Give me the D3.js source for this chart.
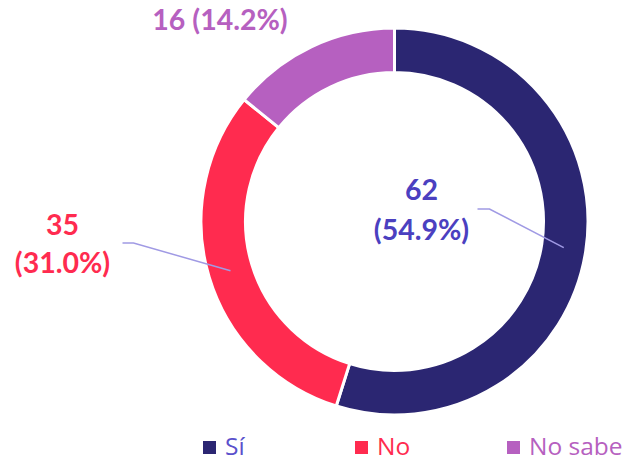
<!DOCTYPE html>
<html>
<head>
<meta charset="utf-8">
<script src="https://cdn.jsdelivr.net/npm/d3@7"></script>
<style>
  body { margin: 0; background: #fff; }
  svg { display: block; font-family: Lato, "Open Sans", sans-serif; }
</style>
</head>
<body>
<svg id="chart" width="634" height="461"></svg>
<script>
// data
const categories = ["Sí", "No", "No sabe"];
const counts = [62, 35, 16];
const sliceColors = ["#2B2672", "#FF2B4F", "#B660C0"];
const textColors = ["#4B40C0", "#FF2B4F", "#B660C0"];
const legendTextColors = ["#5A50CC", "#FF2B4F", "#B660C0"];

const width = 634, height = 461;
const cx = 394.5, cy = 221.5;
const outerR = 193.5, innerR = 149;

const svg = d3.select("#chart");
const g = svg.append("g").attr("transform", "translate(" + cx + "," + cy + ")");

const total = d3.sum(counts);
const data = categories.map((c, i) => ({ cat: c, value: counts[i], i: i }));

const pie = d3.pie().value(d => d.value).sort(null);
const arc = d3.arc().innerRadius(innerR).outerRadius(outerR);
const midArc = d3.arc().innerRadius((innerR + outerR) / 2).outerRadius((innerR + outerR) / 2);

const arcs = pie(data);

g.selectAll("path.slice")
  .data(arcs)
  .enter()
  .append("path")
  .attr("class", "slice")
  .attr("d", arc)
  .attr("fill", d => sliceColors[d.data.i])
  .attr("stroke", "#fff")
  .attr("stroke-width", 3);

// label layout (offsets relative to center)
const labelPos = [
  { x: 27, y: -21.5, gap: 40, elbow: [95, -12.5], end: [83, -12.5] },
  { x: -332, y: 13.5, gap: 38, elbow: [-261, 21.5], end: [-272, 21.5] },
  { x: -174.5, y: -191.5 }
];

arcs.forEach((d, k) => {
  const p = labelPos[k];
  const pct = (d.data.value / total * 100).toFixed(1) + "%";
  if (p.elbow) {
    const c = midArc.centroid(d);
    g.append("polyline")
      .attr("points", [c, p.elbow, p.end].map(q => q.join(",")).join(" "))
      .attr("fill", "none")
      .attr("stroke", "#A09AE4")
      .attr("stroke-width", 1.5);
  }
  const t = g.append("text")
    .attr("text-anchor", "middle")
    .attr("font-weight", "bold")
    .attr("font-size", 28.5)
    .attr("fill", textColors[k]);
  if (p.gap) {
    t.append("tspan").attr("x", p.x).attr("y", p.y).text(d.data.value);
    t.append("tspan").attr("x", p.x).attr("y", p.y + p.gap).text("(" + pct + ")");
  } else {
    t.append("tspan").attr("x", p.x).attr("y", p.y).text(d.data.value + " (" + pct + ")");
  }
});

// legend
const legendX = d3.scalePoint().domain(categories).range([203, 507]);
const legend = svg.append("g");
const items = legend.selectAll("g")
  .data(categories)
  .enter()
  .append("g")
  .attr("transform", d => "translate(" + legendX(d) + ",441)");
items.append("rect")
  .attr("width", 13).attr("height", 13)
  .attr("fill", (d, i) => sliceColors[i]);
items.append("text")
  .attr("x", 22).attr("y", 13.5)
  .attr("font-family", "'Open Sans', sans-serif")
  .attr("font-size", 24.5)
  .attr("fill", (d, i) => legendTextColors[i])
  .text(d => d);
</script>
</body>
</html>
